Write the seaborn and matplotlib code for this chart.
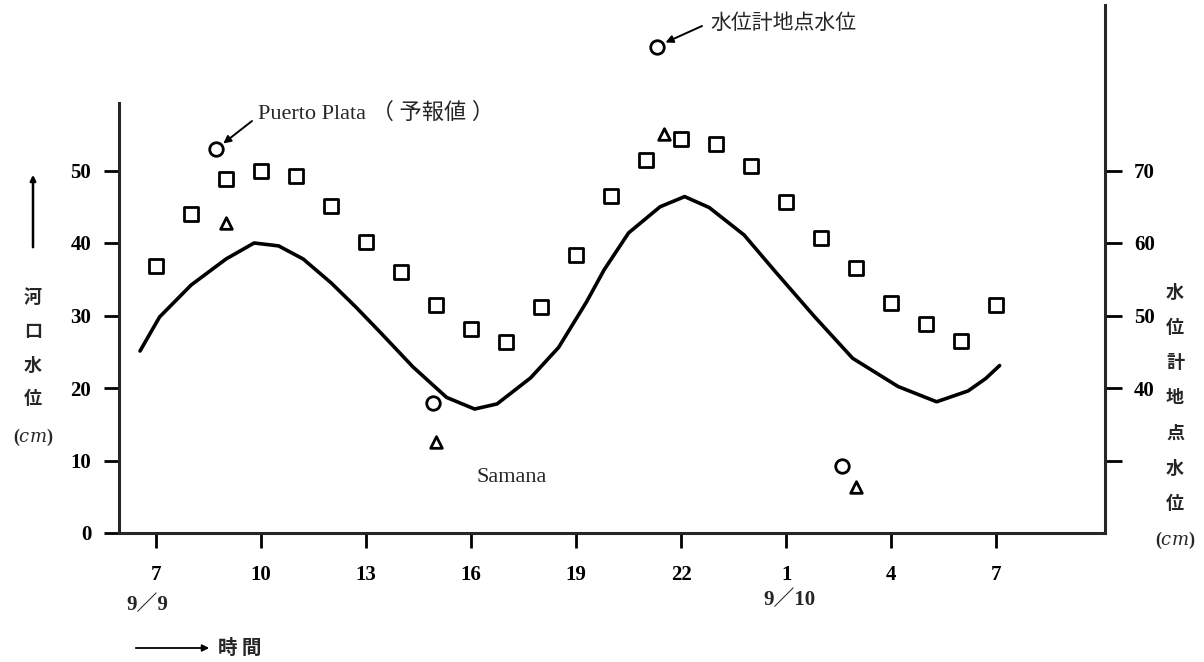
import numpy as np
import pandas as pd
import matplotlib
matplotlib.use("Agg")
import matplotlib.pyplot as plt
import seaborn as sns

# ---------------- data (hours counted from 9/9 7:00) ----------------
tick_hours = [0, 3, 6, 9, 12, 15, 18, 21, 24]
tick_labels = ["7", "10", "13", "16", "19", "22", "1", "4", "7"]
left_ticks = [0, 10, 20, 30, 40, 50]
right_ticks = [30, 40, 50, 60, 70]
right_tick_labels = ["", "40", "50", "60", "70"]

# river-mouth water level (solid curve, left axis, cm)
curve_h = [-0.46, 0.1, 1.0, 2.0, 2.8, 3.5, 4.2, 5.0, 5.7, 6.4, 7.34, 8.3, 9.1, 9.74,
           10.7, 11.5, 12.3, 12.8, 13.5, 14.4, 15.1, 15.8, 16.8, 17.7, 18.8, 19.9,
           21.2, 22.3, 23.2, 23.7, 24.1]
curve_v = [25.1, 29.8, 34.2, 37.8, 40.0, 39.6, 37.8, 34.5, 31.2, 27.7, 22.9, 18.7, 17.1, 17.8,
           21.4, 25.6, 31.9, 36.3, 41.4, 45.0, 46.4, 44.9, 41.1, 36.0, 29.9, 24.1,
           20.2, 18.1, 19.6, 21.3, 23.1]

# water-gauge station level (squares, right axis, cm)
gauge_h = list(range(25))
gauge_v = [56.8, 64.0, 68.8, 69.9, 69.3, 65.1, 60.1, 56.0, 51.4, 48.1, 46.3, 51.2, 58.4,
           66.5, 71.4, 74.3, 73.6, 70.6, 65.6, 60.7, 56.6, 51.7, 48.8, 46.5, 51.4]

# Puerto Plata forecast (circles, left axis)
pp_h = [1.7, 7.9, 19.6]
pp_v = [52.9, 17.9, 9.2]

# Samana forecast (triangles, left axis)
sam_h = [2.0, 8.0, 14.5, 20.0]
sam_v = [42.8, 12.5, 55.1, 6.4]

# water-gauge key point (circle, right axis)
key_h = [14.3]
key_v = [87.1]

# ---------------- style ----------------
sns.set_theme(style="ticks")
plt.rcParams['font.family'] = ['Liberation Serif', 'Noto Sans CJK JP', 'DejaVu Sans']
plt.rcParams['mathtext.fontset'] = 'dejavuserif'

W, H = 1204, 662
def fx(px):
    return px / W
def fy(py):
    return 1 - py / H

fig = plt.figure(figsize=(W / 100, H / 100), dpi=100)
fig.patch.set_facecolor("white")

bottom_px, top_px, left_px, right_px = 533, 5, 119, 1105
ax = fig.add_axes([fx(left_px), fy(bottom_px), fx(right_px) - fx(left_px), fy(top_px) - fy(bottom_px)])
ax.set_facecolor("none")
px_per_unit = 7.25
ytop = (bottom_px - top_px) / px_per_unit
ax.set_xlim(-1.06, 27.11)
ax.set_ylim(0, ytop)
ax2 = ax.twinx()
ax2.set_ylim(20, 20 + ytop)

df_curve = pd.DataFrame({"h": curve_h, "v": curve_v})
sns.lineplot(data=df_curve, x="h", y="v", ax=ax, color="black", linewidth=2.6,
             sort=True, estimator=None)
for l in ax.lines:
    l.set_solid_joinstyle("round")
    l.set_solid_capstyle("round")

sns.scatterplot(x=pp_h, y=pp_v, ax=ax, marker="o", s=95, facecolor="white",
                edgecolor="black", linewidth=2, zorder=5)
sns.scatterplot(x=sam_h, y=sam_v, ax=ax, marker="^", s=70, facecolor="white",
                edgecolor="black", linewidth=2, zorder=5)
sns.scatterplot(x=gauge_h, y=gauge_v, ax=ax2, marker="s", s=95, facecolor="white",
                edgecolor="black", linewidth=2, zorder=5)
sns.scatterplot(x=key_h, y=key_v, ax=ax2, marker="o", s=95, facecolor="white",
                edgecolor="black", linewidth=2, zorder=5)

# ---------------- axes styling ----------------
for a in (ax, ax2):
    a.set_xlabel("")
    a.set_ylabel("")
    a.grid(False)
ax.spines["top"].set_visible(False)
ax.spines["right"].set_visible(False)
ax.spines["left"].set_linewidth(2.2)
ax.spines["bottom"].set_linewidth(2.2)
ax.spines["left"].set_bounds(0, 59.3)
for s in ("left", "top", "bottom"):
    ax2.spines[s].set_visible(False)
ax2.spines["right"].set_linewidth(2.2)

tick_font = dict(family="Liberation Serif", weight="bold", size=15)
ax.set_xticks(tick_hours)
ax.set_xticklabels(tick_labels, fontdict=tick_font)
ax.set_yticks(left_ticks)
ax.set_yticklabels([str(t) for t in left_ticks], fontdict=tick_font)
ax2.set_yticks(right_ticks)
ax2.set_yticklabels(right_tick_labels, fontdict=tick_font)
ax.tick_params(axis="x", direction="out", length=11, width=2, pad=12, colors="black")
ax.tick_params(axis="y", direction="out", length=11, width=2, pad=9, colors="black")
ax2.tick_params(axis="y", direction="out", length=12, width=2, pad=9, colors="black",
                right=True, labelright=True)

# ---------------- annotations ----------------
ax.annotate("", xy=(pp_h[0], pp_v[0]), xycoords="data",
            xytext=(fx(252), fy(121)), textcoords="figure fraction",
            arrowprops=dict(arrowstyle="-|>", color="black", lw=1.4, shrinkA=0, shrinkB=7,
                            mutation_scale=11))
fig.text(fx(258), fy(113), "Puerto Plata （ 予報値 ）", fontsize=16, ha="left", va="center",
         family=["Liberation Serif", "Noto Sans CJK JP"])

ax2.annotate("", xy=(key_h[0], key_v[0]), xycoords="data",
             xytext=(fx(702), fy(26)), textcoords="figure fraction",
             arrowprops=dict(arrowstyle="-|>", color="black", lw=1.4, shrinkA=0, shrinkB=7,
                             mutation_scale=11))
fig.text(fx(710), fy(23), "水位計地点水位", fontsize=15, ha="left", va="center",
         family=["Noto Sans CJK JP", "DejaVu Sans"])

fig.text(fx(512), fy(478), "Samana", fontsize=16, ha="center", va="center",
         family=["Liberation Serif"])

fig.text(fx(147), fy(605), "9／9", fontsize=15, ha="center", va="center", weight="bold",
         family=["Liberation Serif", "Noto Sans CJK JP"])
fig.text(fx(789), fy(600), "9／10", fontsize=15, ha="center", va="center", weight="bold",
         family=["Liberation Serif", "Noto Sans CJK JP"])

# time arrow
fig.add_artist(matplotlib.patches.FancyArrowPatch((fx(133), fy(648)), (fx(212), fy(648)),
               transform=fig.transFigure, arrowstyle="-|>", mutation_scale=10,
               color="black", lw=1.3))
fig.text(fx(218), fy(648), "時 間", fontsize=14, ha="left", va="center", weight="bold",
         family=["Noto Sans CJK JP"])

# left vertical label with arrow
fig.add_artist(matplotlib.patches.FancyArrowPatch((fx(33), fy(250)), (fx(33), fy(172)),
               transform=fig.transFigure, arrowstyle="-|>", mutation_scale=8,
               color="black", lw=1.8))
left_chars = ["河", "口", "水", "位"]
for i, ch in enumerate(left_chars):
    fig.text(fx(33), fy(297 + 34 * i), ch, fontsize=13, ha="center", va="center",
             weight="bold", family=["Noto Sans CJK JP"])
fig.text(fx(33), fy(437), r"($\mathit{cm}$)", fontsize=13, ha="center", va="center",
         weight="bold", family=["Liberation Serif"])

right_chars = ["水", "位", "計", "地", "点", "水", "位"]
for i, ch in enumerate(right_chars):
    fig.text(fx(1175), fy(292 + 35.2 * i), ch, fontsize=13, ha="center", va="center",
             weight="bold", family=["Noto Sans CJK JP"])
fig.text(fx(1175), fy(540), r"($\mathit{cm}$)", fontsize=13, ha="center", va="center",
         weight="bold", family=["Liberation Serif"])

fig.savefig("out.png", dpi=100, facecolor="white")
